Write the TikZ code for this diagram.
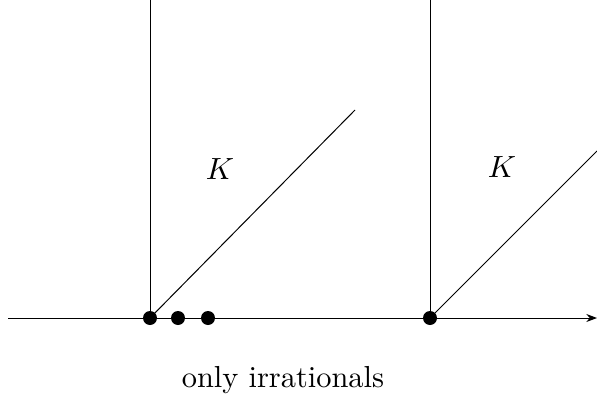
\documentclass[tikz,border=0pt]{standalone}
\usetikzlibrary{arrows.meta}
\begin{document}
\begin{tikzpicture}[x=0.75pt,y=-0.75pt,
  ln/.style={line width=0.75pt},
  dot/.style={circle,fill=black,inner sep=0pt,minimum size=10.5pt},
  lbl/.style={scale=2.3},
  captext/.style={scale=2.28}]
\useasboundingbox (0,0) rectangle (597,400);
\coordinate (L) at (8,318);
\coordinate (R) at (597,318);
\coordinate (t1) at (150,0);
\coordinate (t2) at (430,0);
\coordinate (d1) at (355,110);
\coordinate (d2) at (597,151);
\node[dot] (p1) at (150,318) {};
\node[dot] (p2) at (178,318) {};
\node[dot] (p3) at (208,318) {};
\node[dot] (p4) at (430,318) {};
\draw[ln,-{Stealth[length=8pt,width=6pt]}] (L) -- (R);
\draw[ln] (t1) -- (p1.center);
\draw[ln] (t2) -- (p4.center);
\draw[ln] (p1.center) -- (d1);
\draw[ln] (p4.center) -- (d2);
\node[lbl] (k1) at (220,169) {$K$};
\node[lbl] (k2) at (502,167) {$K$};
\node[captext] (txt) at (283,380) {only irrationals};
\end{tikzpicture}
\end{document}
